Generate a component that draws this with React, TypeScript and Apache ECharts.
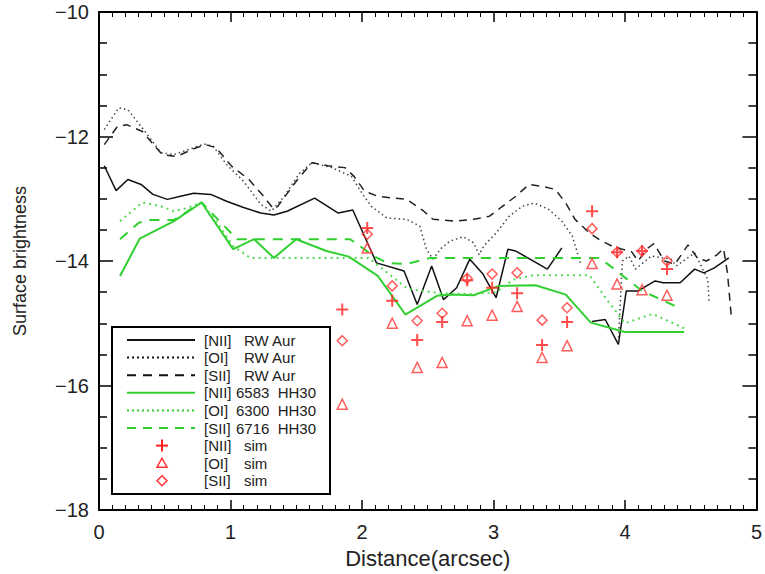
import React, { useEffect, useRef } from "react";
import * as echarts from "echarts";

const FONT = '"Liberation Sans", Arial, Helvetica, sans-serif';

// ---- Data (distance in arcsec, surface brightness) ----
const niiRwAur: [number, number | null][] = [
  [0.04, -12.47], [0.13, -12.87], [0.22, -12.69], [0.32, -12.77], [0.41, -12.93],
  [0.52, -13.01], [0.62, -12.96], [0.72, -12.91], [0.85, -12.93], [0.97, -13.04],
  [1.10, -13.14], [1.23, -13.23], [1.33, -13.26], [1.43, -13.2], [1.64, -12.99],
  [1.82, -13.23], [1.93, -13.18], [2.11, -14.03], [2.32, -14.16], [2.42, -14.70],
  [2.53, -14.08], [2.62, -14.62], [2.72, -14.43], [2.82, -13.97], [2.92, -14.21],
  [3.02, -14.59], [3.11, -13.81], [3.17, -13.84], [3.41, -14.13], [3.52, -13.79],
  [3.63, null], [3.75, -14.97], [3.85, -14.94], [3.95, -15.34], [4.01, -14.48],
  [4.10, -14.48], [4.23, -14.32], [4.29, -14.35], [4.42, -14.35], [4.53, -14.13],
  [4.60, -14.19], [4.68, -14.11], [4.79, -13.95],
];

const oiRwAur: [number, number | null][] = [
  [0.04, -11.89], [0.15, -11.54], [0.22, -11.57], [0.35, -11.92], [0.47, -12.26],
  [0.57, -12.29], [0.72, -12.18], [0.80, -12.12], [0.87, -12.16], [0.97, -12.45],
  [1.10, -12.72], [1.23, -13.09], [1.31, -13.2], [1.41, -12.96], [1.52, -12.6],
  [1.62, -12.42], [1.77, -12.5], [1.92, -12.64], [2.00, -12.91], [2.07, -13.12],
  [2.19, -13.31], [2.34, -13.33], [2.44, -13.44], [2.49, -13.81], [2.54, -13.97],
  [2.60, -13.8], [2.67, -13.68], [2.77, -13.61], [2.85, -13.71], [2.89, -13.9],
  [2.93, -13.75], [3.02, -13.55], [3.12, -13.28], [3.22, -13.12], [3.31, -13.07],
  [3.42, -13.17], [3.52, -13.36], [3.60, -13.6], [3.63, -13.81], [3.66, -14.03],
  [3.80, null], [3.95, -15.3], [3.98, -14.0], [4.03, -13.92], [4.08, -14.13],
  [4.20, -13.92], [4.35, -13.97], [4.39, -14.08], [4.53, -13.87], [4.58, -14.08],
  [4.63, -14.3], [4.64, -14.67],
];

const siiRwAur: [number, number | null][] = [
  [0.04, -12.13], [0.14, -11.84], [0.21, -11.81], [0.33, -11.92], [0.48, -12.29],
  [0.59, -12.32], [0.74, -12.18], [0.81, -12.13], [0.89, -12.18], [1.01, -12.48],
  [1.14, -12.69], [1.24, -12.93], [1.33, -13.17], [1.36, -13.12], [1.51, -12.69],
  [1.62, -12.42], [1.74, -12.47], [1.87, -12.5], [1.94, -12.64], [2.02, -12.88],
  [2.12, -12.96], [2.24, -12.99], [2.34, -13.01], [2.47, -13.2], [2.54, -13.33],
  [2.70, -13.36], [2.85, -13.33], [2.97, -13.28], [3.07, -13.12], [3.17, -12.96],
  [3.27, -12.77], [3.37, -12.8], [3.47, -12.85], [3.55, -13.07], [3.62, -13.33],
  [3.73, -13.55], [3.80, -13.65], [3.90, -13.76], [3.98, -13.81], [4.05, -13.85],
  [4.10, -14.0], [4.17, -13.8], [4.22, -13.72], [4.30, -14.0], [4.38, -14.05],
  [4.48, -13.74], [4.55, -13.95], [4.62, -14.0], [4.70, -13.9], [4.75, -13.8],
  [4.78, -14.2], [4.81, -14.92],
];

const niiHH30: [number, number][] = [
  [0.16, -14.24], [0.31, -13.64], [0.57, -13.36], [0.78, -13.06], [1.02, -13.81],
  [1.18, -13.65], [1.33, -13.95], [1.50, -13.65], [1.73, -13.84], [1.90, -13.93],
  [2.12, -14.24], [2.33, -14.86], [2.57, -14.56], [2.67, -14.54], [2.85, -14.55],
  [3.04, -14.40], [3.32, -14.39], [3.55, -14.54], [3.74, -14.99], [4.0, -15.14],
  [4.45, -15.14],
];

const oiHH30: [number, number][] = [
  [0.16, -13.36], [0.33, -13.06], [0.47, -13.12], [0.57, -13.2], [0.67, -13.15],
  [0.78, -13.06], [0.90, -13.39], [1.02, -13.76], [1.15, -13.95], [1.78, -13.95],
  [2.05, -13.95], [2.35, -14.45], [2.62, -14.52], [2.85, -14.53], [3.02, -14.5],
  [3.15, -14.3], [3.30, -14.23], [3.73, -14.23], [3.88, -14.67], [4.0, -15.0],
  [4.21, -14.85], [4.45, -15.08],
];

const siiHH30: [number, number][] = [
  [0.16, -13.65], [0.30, -13.39], [0.37, -13.34], [0.57, -13.34], [0.78, -13.06],
  [1.05, -13.65], [1.91, -13.65], [2.09, -13.92], [2.19, -14.03], [2.34, -14.05],
  [2.52, -13.95], [3.80, -13.95], [3.87, -14.05], [4.13, -14.48], [4.42, -14.76],
];

const simDistance = [1.85, 2.04, 2.23, 2.42, 2.61, 2.80, 2.99, 3.18, 3.37, 3.56, 3.75, 3.94, 4.13, 4.32];
const niiSim = [-14.78, -13.47, -14.64, -15.27, -14.98, -14.31, -14.43, -14.52, -15.35, -14.98, -13.20, -13.86, -13.84, -14.13];
const oiSim = [-16.30, -13.79, -15.0, -15.71, -15.63, -14.96, -14.87, -14.73, -15.55, -15.36, -14.04, -14.37, -14.46, -14.55];
const siiSim = [-15.28, -13.57, -14.40, -14.96, -14.84, -14.28, -14.21, -14.19, -14.95, -14.75, -13.48, -13.86, -13.84, -14.0];

const yTicks = [-18, -16, -14, -12, -10];
const xTicks = [0, 1, 2, 3, 4, 5];

const legendRows = [
  { tag: "[NII]", rest: "RW Aur", kind: "line", color: "#111", dash: "solid" },
  { tag: "[OI]", rest: "RW Aur", kind: "line", color: "#111", dash: "dotted" },
  { tag: "[SII]", rest: "RW Aur", kind: "line", color: "#111", dash: "dashed" },
  { tag: "[NII]", rest: "6583  HH30", kind: "line", color: "#30d030", dash: "solid" },
  { tag: "[OI]", rest: "6300  HH30", kind: "line", color: "#30d030", dash: "dotted" },
  { tag: "[SII]", rest: "6716  HH30", kind: "line", color: "#30d030", dash: "dashed" },
  { tag: "[NII]", rest: "sim", kind: "plus", color: "#ff2020", dash: "" },
  { tag: "[OI]", rest: "sim", kind: "tri", color: "#ff3333", dash: "" },
  { tag: "[SII]", rest: "sim", kind: "dia", color: "#ff3333", dash: "" },
];

const BLACK = "#111";
const GREEN = "#30d030";
const RED = "#ff2020";
const RED2 = "#ff3333";
const DOT: number[] = [1.5, 3];
const DASH: number[] = [8, 6];
const PLUS = "path://M-1,-6L1,-6L1,-1L6,-1L6,1L1,1L1,6L-1,6L-1,1L-6,1L-6,-1L-1,-1Z";

const toData = (arr: [number, number | null][]) => arr.map(([x, y]) => [x, y === null ? "-" : y]);
const pair = (ys: number[]) => simDistance.map((x, i) => [x, ys[i]]);

function dashOf(d: string): any {
  if (d === "dotted") return [2, 3];
  if (d === "dashed") return [9, 7];
  return undefined;
}

function buildLegend(): any[] {
  const els: any[] = [];
  els.push({
    type: "rect",
    shape: { x: 112, y: 327, width: 218, height: 167 },
    style: { fill: "#fff", stroke: "#000", lineWidth: 2 },
    z: 100,
  });
  const x0 = 127, x1 = 195, cx = 162;
  legendRows.forEach((r, i) => {
    const y = 340 + i * 17.6;
    if (r.kind === "line") {
      els.push({
        type: "line",
        shape: { x1: x0, y1: y, x2: x1, y2: y },
        style: { stroke: r.color, lineWidth: 2, lineDash: dashOf(r.dash) },
        z: 101,
      });
    } else if (r.kind === "plus") {
      els.push({ type: "line", shape: { x1: cx - 6, y1: y, x2: cx + 6, y2: y }, style: { stroke: r.color, lineWidth: 2 }, z: 101 });
      els.push({ type: "line", shape: { x1: cx, y1: y - 6, x2: cx, y2: y + 6 }, style: { stroke: r.color, lineWidth: 2 }, z: 101 });
    } else if (r.kind === "tri") {
      els.push({
        type: "polygon",
        shape: { points: [[cx, y - 5], [cx - 5, y + 4], [cx + 5, y + 4]] },
        style: { fill: "none", stroke: r.color, lineWidth: 1.5 },
        z: 101,
      });
    } else {
      els.push({
        type: "polygon",
        shape: { points: [[cx, y - 5], [cx + 5, y], [cx, y + 5], [cx - 5, y]] },
        style: { fill: "none", stroke: r.color, lineWidth: 1.5 },
        z: 101,
      });
    }
    els.push({
      type: "text",
      x: 204,
      y,
      style: { text: r.tag, fill: "#222", fontSize: 15, fontFamily: FONT, verticalAlign: "middle", align: "left" },
      z: 101,
    });
    els.push({
      type: "text",
      x: r.rest.startsWith("6") ? 236 : 244,
      y,
      style: { text: r.rest, fill: "#222", fontSize: 15, fontFamily: FONT, verticalAlign: "middle", align: "left" },
      z: 101,
    });
  });
  return els;
}

export default function App() {
  const ref = useRef<HTMLDivElement>(null);
  useEffect(() => {
    if (!ref.current) return;
    const chart = echarts.init(ref.current, undefined, { renderer: "svg" });
    const axisLine = { show: true, onZero: false, lineStyle: { color: "#000", width: 2 } };
    const labelStyle = { color: "#222", fontSize: 20, fontFamily: FONT };
    const xBase = {
      type: "value",
      min: xTicks[0],
      max: xTicks[xTicks.length - 1],
      interval: 1,
      axisLine,
      axisTick: { show: true, inside: true, length: 10, lineStyle: { color: "#000", width: 1.5 } },
      minorTick: { show: true, splitNumber: 10, length: 5, lineStyle: { color: "#000", width: 1 } },
      splitLine: { show: false },
      minorSplitLine: { show: false },
    };
    const yBase = {
      type: "value",
      min: yTicks[0],
      max: yTicks[yTicks.length - 1],
      interval: 2,
      axisLine,
      axisTick: { show: true, inside: true, length: 14, lineStyle: { color: "#000", width: 1.5 } },
      minorTick: { show: true, splitNumber: 4, length: 8, lineStyle: { color: "#000", width: 1.5 } },
      splitLine: { show: false },
      minorSplitLine: { show: false },
    };
    const lineSeries = (name: string, data: any[], color: string, type: any, width: number) => ({
      name,
      type: "line",
      data,
      symbol: "none",
      showSymbol: false,
      connectNulls: false,
      lineStyle: { color, width, type },
      z: 3,
    });
    chart.setOption({
      animation: false,
      backgroundColor: "#fff",
      grid: { left: 99, right: 3, top: 12, bottom: 63, containLabel: false },
      xAxis: [
        {
          ...xBase,
          position: "bottom",
          axisLabel: { ...labelStyle, margin: 12 },
          name: "Distance(arcsec)",
          nameLocation: "middle",
          nameGap: 37,
          nameTextStyle: { ...labelStyle, fontSize: 22 },
        },
        { ...xBase, position: "top", axisLabel: { show: false } },
      ],
      yAxis: [
        {
          ...yBase,
          position: "left",
          axisLabel: {
            ...labelStyle,
            margin: 10,
            formatter: (v: number) => String(v).replace("-", "\u2212"),
          },
          name: "Surface brightness",
          nameLocation: "middle",
          nameGap: 70,
          nameTextStyle: { ...labelStyle, fontSize: 18 },
        },
        { ...yBase, position: "right", axisLabel: { show: false } },
      ],
      series: [
        lineSeries("[NII] RW Aur", toData(niiRwAur), BLACK, "solid", 1.5),
        lineSeries("[OI] RW Aur", toData(oiRwAur), "#444", DOT, 1.5),
        lineSeries("[SII] RW Aur", toData(siiRwAur), "#222", DASH, 1.5),
        lineSeries("[NII]6583 HH30", niiHH30, GREEN, "solid", 2),
        lineSeries("[OI]6300 HH30", oiHH30, "#55d855", [2, 4], 2),
        lineSeries("[SII]6716 HH30", siiHH30, GREEN, [10, 8], 2),
        {
          name: "[NII] sim",
          type: "scatter",
          data: pair(niiSim),
          symbol: PLUS,
          symbolSize: 12,
          itemStyle: { color: RED },
          z: 4,
        },
        {
          name: "[OI] sim",
          type: "scatter",
          data: pair(oiSim),
          symbol: "triangle",
          symbolSize: 10,
          itemStyle: { color: "rgba(0,0,0,0)", borderColor: RED2, borderWidth: 1.5 },
          z: 4,
        },
        {
          name: "[SII] sim",
          type: "scatter",
          data: pair(siiSim),
          symbol: "diamond",
          symbolSize: 10,
          itemStyle: { color: "rgba(0,0,0,0)", borderColor: RED2, borderWidth: 1.5 },
          z: 4,
        },
      ],
      graphic: buildLegend(),
    });
    return () => chart.dispose();
  }, []);
  return (
    <div
      ref={ref}
      style={{ position: "absolute", left: 0, top: 0, width: 765, height: 574, background: "#fff" }}
    />
  );
}
